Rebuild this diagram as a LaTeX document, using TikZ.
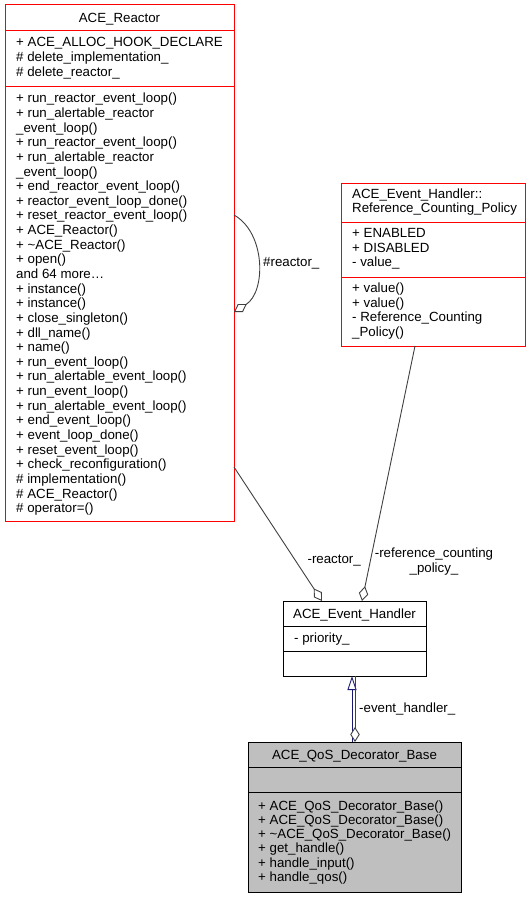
\documentclass[tikz,border=0pt]{standalone}
\usepackage{fontspec}
\setmainfont{Liberation Sans}
\usetikzlibrary{calc, positioning, arrows.meta}
\definecolor{edgegray}{HTML}{404040}
\definecolor{inhblue}{HTML}{191970}
\definecolor{qosgray}{HTML}{BFBFBF}

\begin{document}
\begin{tikzpicture}[x=1pt, y=-1pt]
        \useasboundingbox (0,0) rectangle (531,899);

        \tikzstyle{cls} = [draw, line width=1pt, rectangle, inner sep=0, outer sep=0, anchor=north west];
        \tikzstyle{txt} = [inner sep=0, font=\fontsize{13.3}{14.5}\selectfont];
        \tikzstyle{mem} = [txt, anchor=base west];
        \tikzstyle{aggr} = [draw=edgegray, line width=0.9pt, -{Diamond[fill=white, length=15pt, width=9.5pt]}];
        \tikzstyle{inh} = [draw=inhblue, line width=0.9pt, -{Triangle[fill=white, length=14pt, width=9pt]}];

        % class boxes
        \node [cls, draw=red, minimum width=229pt, minimum height=516pt] (reactor) at (5,5) { };
        \node [cls, draw=red, minimum width=184pt, minimum height=163pt] (policy) at (341,183) { };
        \node [cls, minimum width=143pt, minimum height=75pt] (eh) at (283,601) { };
        \node [cls, fill=qosgray, minimum width=213pt, minimum height=150pt] (qos) at (248,742) { };

        % compartments
        \draw [red, line width=1pt] ($(reactor.north west)+(0,26)$) -- ($(reactor.north east)+(0,26)$);
        \draw [red, line width=1pt] ($(reactor.north west)+(0,81)$) -- ($(reactor.north east)+(0,81)$);
        \draw [red, line width=1pt] ($(policy.north west)+(0,39)$) -- ($(policy.north east)+(0,39)$);
        \draw [red, line width=1pt] ($(policy.north west)+(0,94)$) -- ($(policy.north east)+(0,94)$);
        \foreach \b in {eh, qos}{
            \draw [line width=1pt] ($(\b.north west)+(0,25.5)$) -- ($(\b.north east)+(0,25.5)$);
            \draw [line width=1pt] ($(\b.north west)+(0,50.5)$) -- ($(\b.north east)+(0,50.5)$);
        }

        % titles
        \node [txt, anchor=base] (rt) at ($(reactor.north)+(0,17.5)$) {ACE\_Reactor};
        \node [mem] (pt1) at ($(policy.north west)+(11,15.5)$) {ACE\_Event\_Handler::};
        \node [mem] (pt2) at ($(policy.north west)+(11,29.5)$) {Reference\_Counting\_Policy};
        \node [txt, anchor=base] (et) at ($(eh.north)+(0,17)$) {ACE\_Event\_Handler};
        \node [txt, anchor=base] (qt) at ($(qos.north)+(0,17.5)$) {ACE\_QoS\_Decorator\_Base};

        % members
        \foreach \m [count=\i] in {+ ACE\_ALLOC\_HOOK\_DECLARE, \# delete\_implementation\_, \# delete\_reactor\_}{
            \node [mem] (ra\i) at ($(reactor.north west)+(11,{41.8+(\i-1)*14.7})$) {\m};
        }
        \foreach \m [count=\i] in {+ run\_reactor\_event\_loop(), + run\_alertable\_reactor, \_event\_loop(),
            + run\_reactor\_event\_loop(), + run\_alertable\_reactor, \_event\_loop(),
            + end\_reactor\_event\_loop(), + reactor\_event\_loop\_done(), + reset\_reactor\_event\_loop(),
            + ACE\_Reactor(), + \textasciitilde ACE\_Reactor(), + open(), and 64 more\ldots, + instance(),
            + instance(), + close\_singleton(), + dll\_name(), + name(), + run\_event\_loop(),
            + run\_alertable\_event\_loop(), + run\_event\_loop(), + run\_alertable\_event\_loop(),
            + end\_event\_loop(), + event\_loop\_done(), + reset\_event\_loop(),
            + check\_reconfiguration(), \# implementation(), \# ACE\_Reactor(), \# operator=()}{
            \node [mem] (rm\i) at ($(reactor.north west)+(11,{97.8+(\i-1)*14.64})$) {\m};
        }
        \foreach \m [count=\i] in {+ ENABLED, + DISABLED, - value\_}{
            \node [mem] (pa\i) at ($(policy.north west)+(11,{54.5+(\i-1)*14.5})$) {\m};
        }
        \foreach \m [count=\i] in {+ value(), + value(), - Reference\_Counting, \_Policy()}{
            \node [mem] (pm\i) at ($(policy.north west)+(11,{109.8+(\i-1)*14.5})$) {\m};
        }
        \node [mem] (ea1) at ($(eh.north west)+(11,41.5)$) {- priority\_};
        \foreach \m [count=\i] in {+ ACE\_QoS\_Decorator\_Base(), + ACE\_QoS\_Decorator\_Base(),
            + \textasciitilde ACE\_QoS\_Decorator\_Base(), + get\_handle(), + handle\_input(), + handle\_qos()}{
            \node [mem] (qm\i) at ($(qos.north west)+(10,{68+(\i-1)*14.3})$) {\m};
        }

        % connectors
        \coordinate (loopA) at ($(reactor.north east)+(0,210)$);
        \coordinate (loopB) at ($(reactor.north east)+(0,307)$);
        \draw [aggr] (loopA) .. controls ($(loopA)+(32,18)$) and ($(loopB)+(32,-20)$) .. (loopB);
        \node [txt, anchor=west] (lloop) at ($(loopA)!0.5!(loopB)+(29,0)$) {\#reactor\_};

        \coordinate (rS) at ($(reactor.north east)+(0,462)$);
        \coordinate (rE) at ($(eh.north west)+(39,0)$);
        \draw [aggr] (rS) -- (rE);
        \node [txt, anchor=east] (lr) at (361,561) {-reactor\_};

        \coordinate (pS) at ($(policy.south)+(-18,0)$);
        \coordinate (pE) at ($(eh.north west)+(79,0)$);
        \draw [aggr] (pS) -- (pE);
        \node [txt, align=center, anchor=north] (lp) at (434,548) {-reference\_counting\\\_policy\_};

        \draw [inh] ($(qos.north)+(-2.5,0)$) -- ($(eh.south)+(-2.5,0)$);
        \draw [aggr] ($(eh.south)+(0.5,0)$) -- ($(qos.north)+(0.5,0)$);
        \node [txt, anchor=west] (le) at (359,709) {-event\_handler\_};
\end{tikzpicture}
\end{document}
